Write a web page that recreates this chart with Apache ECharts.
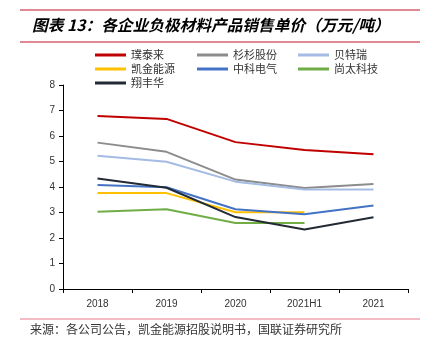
<!DOCTYPE html>
<html>
<head>
<meta charset="utf-8">
<script src="https://cdn.jsdelivr.net/npm/echarts@6/dist/echarts.min.js"></script>
<style>
  html, body { margin: 0; padding: 0; background: #fff; }
  #chart { width: 428px; height: 352px; }
</style>
</head>
<body>
<div id="chart"></div>
<script>
const categories = ['2018', '2019', '2020', '2021H1', '2021'];

const putailai = [6.78, 6.67, 5.76, 5.45, 5.28];
const shanshan = [5.74, 5.38, 4.29, 3.96, 4.12];
const btr = [5.23, 4.99, 4.21, 3.90, 3.90];
const kaijin = [3.76, 3.76, 3.01, 3.01, null];
const zhongke = [4.08, 3.99, 3.13, 2.93, 3.27];
const shangtai = [3.03, 3.13, 2.59, 2.59, null];
const xiangfenghua = [4.33, 3.97, 2.82, 2.33, 2.81];

const cjk = '"Noto Sans CJK SC", sans-serif';

const chart = echarts.init(document.getElementById('chart'));

function line(name, data, color) {
  return {
    name,
    type: 'line',
    data,
    symbol: 'none',
    lineStyle: { color, width: 2 },
    itemStyle: { color },
    animation: false
  };
}

const legendBase = {
  orient: 'vertical',
  top: 44,
  itemWidth: 31,
  itemHeight: 3,
  itemGap: 2,
  icon: 'rect',
  textStyle: { fontFamily: cjk, fontSize: 11, color: '#333', lineHeight: 12 }
};

chart.setOption({
  animation: false,
  graphic: [
    { type: 'line', shape: { x1: 20, y1: 10, x2: 420, y2: 10 }, style: { stroke: '#c0142a', lineWidth: 1 } },
    { type: 'line', shape: { x1: 20, y1: 42, x2: 420, y2: 42 }, style: { stroke: '#c0142a', lineWidth: 1 } },
    {
      type: 'text', left: 32, top: 17,
      style: {
        text: '图表 13：各企业负极材料产品销售单价（万元/吨）',
        font: 'italic bold 15.7px "Noto Sans CJK SC", sans-serif',
        fill: '#000'
      }
    },
    { type: 'line', shape: { x1: 20, y1: 319, x2: 420, y2: 319 }, style: { stroke: '#e8788a', lineWidth: 1 } },
    {
      type: 'text', left: 30, top: 323,
      style: {
        text: '来源：各公司公告，凯金能源招股说明书，国联证券研究所',
        font: '12px "Noto Sans CJK SC", sans-serif',
        fill: '#333'
      }
    }
  ],
  legend: [
    Object.assign({}, legendBase, { left: 90, data: ['璞泰来', '凯金能源', '翔丰华'] }),
    Object.assign({}, legendBase, { left: 192, data: ['杉杉股份', '中科电气'] }),
    Object.assign({}, legendBase, { left: 293, data: ['贝特瑞', '尚太科技'] })
  ],
  grid: { left: 63, right: 20, top: 85, bottom: 63 },
  xAxis: {
    type: 'category',
    data: categories,
    boundaryGap: true,
    axisLine: { lineStyle: { color: '#000', width: 1 } },
    axisTick: { show: true, length: 4, lineStyle: { color: '#000' } },
    axisLabel: { color: '#333', fontSize: 10, fontFamily: 'Liberation Sans, Arial', margin: 10 }
  },
  yAxis: {
    type: 'value',
    min: 0,
    max: 8,
    interval: 1,
    splitLine: { show: false },
    axisLine: { show: true, lineStyle: { color: '#000', width: 1 } },
    axisTick: { show: true, length: 4, lineStyle: { color: '#000' } },
    axisLabel: { color: '#333', fontSize: 10, fontFamily: 'Liberation Sans, Arial', margin: 8 }
  },
  series: [
    line('璞泰来', putailai, '#c00000'),
    line('杉杉股份', shanshan, '#8c8c8c'),
    line('贝特瑞', btr, '#a4bbe4'),
    line('凯金能源', kaijin, '#ffc000'),
    line('中科电气', zhongke, '#4472c4'),
    line('尚太科技', shangtai, '#70ad47'),
    line('翔丰华', xiangfenghua, '#222a35')
  ]
});
</script>
</body>
</html>
